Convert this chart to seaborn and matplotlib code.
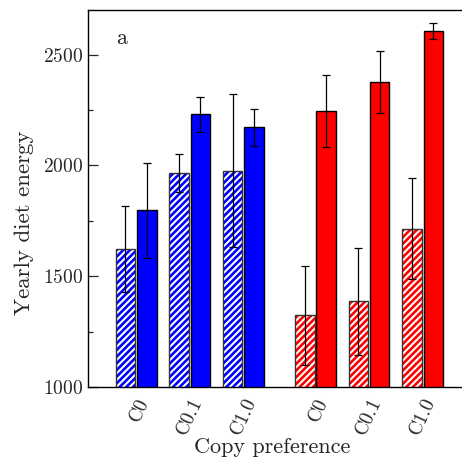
import numpy as np
import pandas as pd
import matplotlib
matplotlib.use('Agg')
import matplotlib.pyplot as plt
from matplotlib.patches import Rectangle
import seaborn as sns

# group labels and positions (blue block, then red block with a wider gap)
labels = ['C0', 'C0.1', 'C1.0', 'C0', 'C0.1', 'C1.0']
positions = [0, 1, 2, 3.35, 4.35, 5.35]
group_colors = ['#0000ff', '#0000ff', '#0000ff', '#ff0000', '#ff0000', '#ff0000']

# hatched (left) and solid (right) bars per group
hatched_vals = [1622, 1967, 1976, 1323, 1386, 1715]
hatched_err = [195, 85, 345, 222, 243, 228]
solid_vals = [1797, 2230, 2171, 2245, 2377, 2607]
solid_err = [215, 78, 85, 161, 141, 35]

sns.set_style('ticks')
plt.rcParams['font.family'] = ['cmr10', 'DejaVu Serif']
plt.rcParams['mathtext.fontset'] = 'cm'
plt.rcParams['axes.formatter.use_mathtext'] = True
plt.rcParams['hatch.linewidth'] = 1.9

df = pd.DataFrame({
    'pos': positions * 2,
    'value': hatched_vals + solid_vals,
    'kind': ['hatched'] * 6 + ['solid'] * 6,
})

fig = plt.figure(figsize=(4.62, 4.63), dpi=100)
ax = fig.add_axes([0.1905, 0.1641, 0.8075, 0.8139])

sns.barplot(data=df, x='pos', y='value', hue='kind', hue_order=['hatched', 'solid'],
            native_scale=True, errorbar=None, gap=0.09, width=0.8,
            palette=['white', 'black'], legend=False, ax=ax)

errs = {'hatched': hatched_err, 'solid': solid_err}
vals = {'hatched': hatched_vals, 'solid': solid_vals}
for kind, cont in zip(['hatched', 'solid'], ax.containers):
    patches = sorted(cont.patches, key=lambda p: p.get_x())
    centers = []
    for p, col in zip(patches, group_colors):
        if kind == 'hatched':
            p.set_facecolor('white')
            p.set_edgecolor(col)
            p.set_hatch('/////')
            p.set_linewidth(0)
            ax.add_patch(Rectangle(p.get_xy(), p.get_width(), p.get_height(),
                                   fill=False, ec='#333333', lw=1.0, zorder=p.get_zorder() + 0.1))
        else:
            p.set_facecolor(col)
            p.set_edgecolor('black')
            p.set_linewidth(1.0)
        centers.append(p.get_x() + p.get_width() / 2)
    ax.errorbar(centers, vals[kind], yerr=errs[kind], fmt='none', ecolor='black',
                elinewidth=0.9, capsize=2.8, capthick=0.9, zorder=5)

ax.set_xlim(-0.9, 6.07)
ax.set_ylim(1000, 2700)
ax.set_yticks([1000, 1500, 2000, 2500])
ax.set_yticks([1250, 1750, 2250], minor=True)
ax.set_xticks(positions)
ax.set_xticklabels(labels, rotation=65, ha='right', rotation_mode='anchor')
ax.tick_params(axis='y', which='major', direction='in', length=7, width=0.9, labelsize=14)
ax.tick_params(axis='y', which='minor', direction='in', length=3.6, width=0.9)
ax.tick_params(axis='x', length=0, labelsize=14, pad=6)

ax.spines['right'].set_visible(False)
for s in ['left', 'top', 'bottom']:
    ax.spines[s].set_linewidth(1.0)
    ax.spines[s].set_color('black')

ax.set_xlabel('Copy preference', fontsize=16)
ax.set_ylabel('Yearly diet energy', fontsize=16.5)
ax.yaxis.set_label_coords(-0.145, 0.435)
ax.xaxis.set_label_coords(0.495, -0.135)
ax.text(0.09, 0.926, 'a', transform=ax.transAxes, fontsize=16, va='center', ha='center')

fig.savefig('out.png', dpi=100)
